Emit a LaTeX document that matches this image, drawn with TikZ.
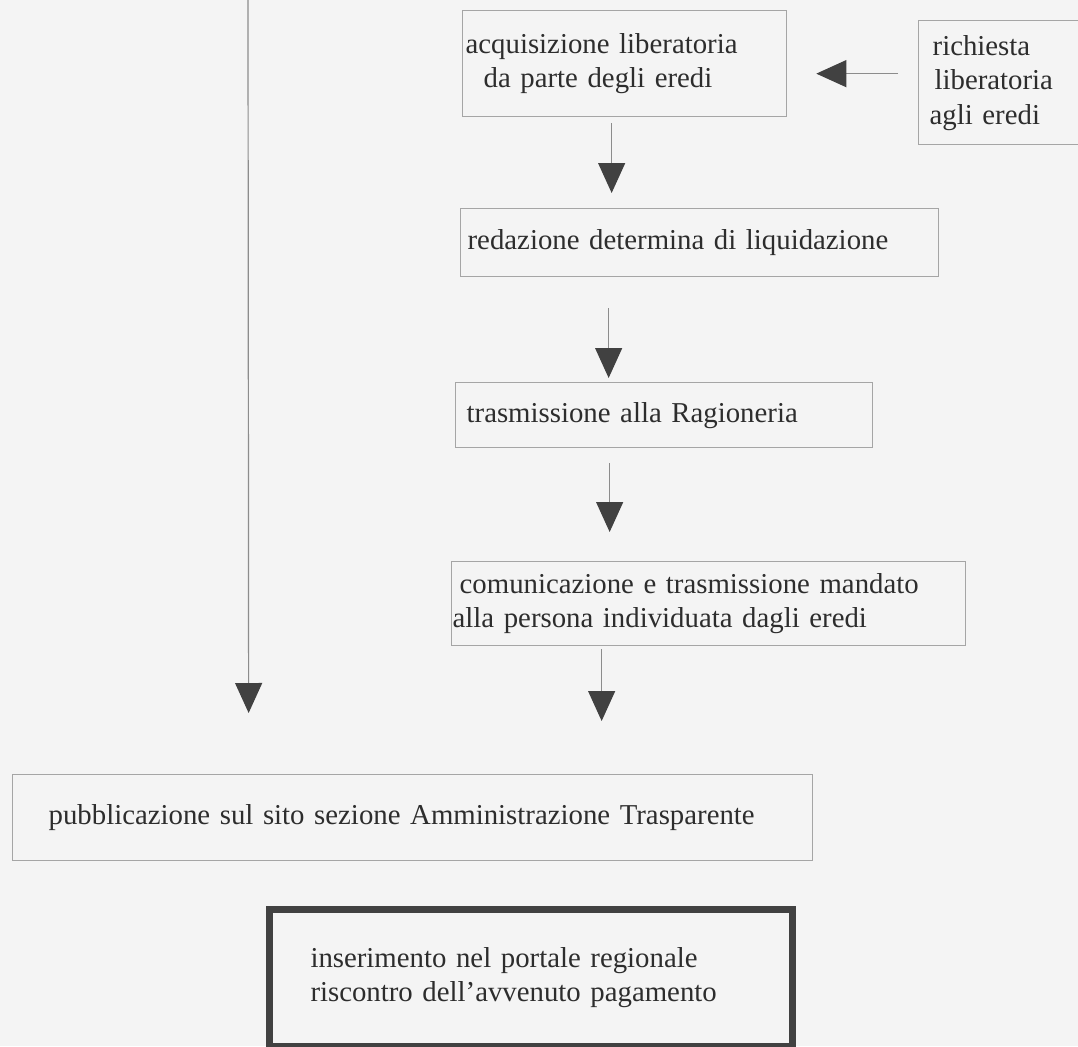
\documentclass[tikz,border=0pt]{standalone}
\usepackage{fontspec}
\setmainfont{Liberation Serif}
\usetikzlibrary{arrows.meta,positioning}
\definecolor{paper}{RGB}{244,244,244}
\definecolor{boxgray}{RGB}{165,165,165}
\definecolor{inkgray}{RGB}{45,45,45}
\definecolor{headgray}{RGB}{65,65,65}
\definecolor{stemgray}{RGB}{140,140,140}

\begin{document}
\begin{tikzpicture}[x=1pt, y=-1pt,
  stepbox/.style={draw=boxgray, line width=1.3pt, anchor=north west, align=left, inner ysep=0pt, text=inkgray, font=\fontsize{28.8}{34.5}\selectfont},
  lastbox/.style={stepbox, draw=headgray, line width=7pt},
  flow/.style={-{Triangle[length=30pt, width=27pt, color=headgray]}, draw=stemgray, line width=1.2pt},
]
\fill[paper] (0,0) rectangle (1078,1046);
\useasboundingbox (0,0) rectangle (1078,1046);

% steps
\node[stepbox, minimum width=324pt, minimum height=106pt, inner xsep=3pt, text width=318pt] (acq) at (462,10) {acquisizione liberatoria\\\hspace*{18pt}da parte degli eredi};
\node[stepbox, minimum width=160pt, minimum height=124pt, inner xsep=11pt, text width=138pt] (rich) at (918,20) {\hspace*{3pt}richiesta\\\hspace*{5pt}liberatoria\\agli eredi};
\node[stepbox, minimum width=478pt, minimum height=68pt, inner xsep=7pt, text width=464pt] (red) at (460,208) {redazione determina di liquidazione};
\node[stepbox, minimum width=417pt, minimum height=65pt, inner xsep=11pt, text width=395pt] (tras) at (455,382) {trasmissione alla Ragioneria};
\node[stepbox, minimum width=514pt, minimum height=84pt, inner xsep=1pt, text width=512pt] (com) at (451,561) {\hspace*{7pt}comunicazione e trasmissione mandato\\alla persona individuata dagli eredi};
\node[stepbox, minimum width=800pt, minimum height=86pt, inner xsep=36pt, text width=728pt] (pub) at (12,774) {pubblicazione sul sito sezione Amministrazione Trasparente};
\node[lastbox, minimum width=523pt, minimum height=137pt, inner xsep=41.5pt, text width=440pt] (ins) at (265.5,905.5) {inserimento nel portale regionale\\riscontro dell'avvenuto pagamento};

% line coming from the previous page
\coordinate (from) at (248,0);

\draw[flow] ([xshift=-20pt,yshift=9pt]rich.west) -- ([xshift=29pt,yshift=-10pt]acq.east);
\draw[flow] ([xshift=-13pt,yshift=-6pt]acq.south) -- ([xshift=-88pt,yshift=15pt]red.north);
\draw[flow] ([xshift=-91pt,yshift=-31pt]red.south) -- ([xshift=-55.5pt,yshift=4pt]tras.north);
\draw[flow] ([xshift=-54.5pt,yshift=-15pt]tras.south) -- ([xshift=-99pt,yshift=29pt]com.north);
\draw[flow] ([xshift=-107pt,yshift=-3pt]com.south) -- ([xshift=189pt,yshift=53pt]pub.north);
\draw[flow] (from) -- ([xshift=-164pt,yshift=61pt]pub.north);
\end{tikzpicture}
\end{document}
